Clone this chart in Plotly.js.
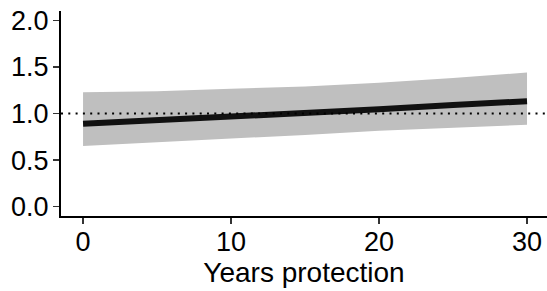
<!DOCTYPE html>
<html>
<head>
<meta charset="utf-8">
<script src="https://cdn.plot.ly/plotly-3.0.1.min.js"></script>
<style>html,body{margin:0;padding:0;background:#fff;}#chart{width:547px;height:291px;}</style>
</head>
<body>
<div id="chart"></div>
<script>
const years = [0, 5, 10, 15, 20, 25, 30];
const fit   = [0.89, 0.925, 0.96, 1.0, 1.045, 1.09, 1.132];
const upper = [1.227, 1.24, 1.265, 1.29, 1.33, 1.38, 1.44];
const lower = [0.652, 0.69, 0.73, 0.77, 0.815, 0.85, 0.88];
const yTicks = [0, 0.5, 1.0, 1.5, 2.0];
const yTickText = ["0.0", "0.5", "1.0", "1.5", "2.0"];
const xTicks = [0, 10, 20, 30];
const refLine = 1.0;

const traces = [
  {x: years, y: lower, type: 'scatter', mode: 'lines', line: {width: 0, color: 'rgba(0,0,0,0)'}, hoverinfo: 'skip', showlegend: false},
  {x: years, y: upper, type: 'scatter', mode: 'lines', fill: 'tonexty', fillcolor: '#bfbfbf', line: {width: 0, color: 'rgba(0,0,0,0)'}, hoverinfo: 'skip', showlegend: false},
  {x: years, y: fit, type: 'scatter', mode: 'lines', line: {width: 6, color: '#111111'}, showlegend: false}
];

const font = {family: 'Liberation Sans, Arial, sans-serif', color: '#000'};
const layout = {
  width: 547, height: 291,
  margin: {l: 61, r: 0, t: 10.6, b: 74.6, pad: 0},
  paper_bgcolor: '#fff', plot_bgcolor: '#fff',
  showlegend: false,
  font: font,
  xaxis: {
    range: [-1.49, 31.35], tickvals: xTicks, ticktext: xTicks.map(String),
    showgrid: false, zeroline: false, showline: true, linecolor: '#000', linewidth: 2,
    ticks: 'outside', ticklen: 6, tickwidth: 1.5, tickcolor: '#333',
    ticklabelstandoff: -5,
    tickfont: {size: 27, family: font.family, color: '#000'},
    title: {text: 'Years protection', font: {size: 28, family: font.family, color: '#000'}, standoff: 2}
  },
  yaxis: {
    range: [-0.1, 2.1], tickvals: yTicks, ticktext: yTickText,
    showgrid: false, zeroline: false, showline: true, linecolor: '#000', linewidth: 2,
    ticks: 'outside', ticklen: 6, tickwidth: 1.5, tickcolor: '#333',
    ticklabelstandoff: -1,
    tickfont: {size: 27, family: font.family, color: '#000'}
  },
  shapes: [{
    type: 'line', xref: 'paper', x0: 0, x1: 1, yref: 'y', y0: refLine, y1: refLine,
    line: {color: '#000', width: 2, dash: '2px,5.3px'}, layer: 'above'
  }]
};
Plotly.newPlot('chart', traces, layout, {displayModeBar: false, staticPlot: true});
</script>
</body>
</html>
